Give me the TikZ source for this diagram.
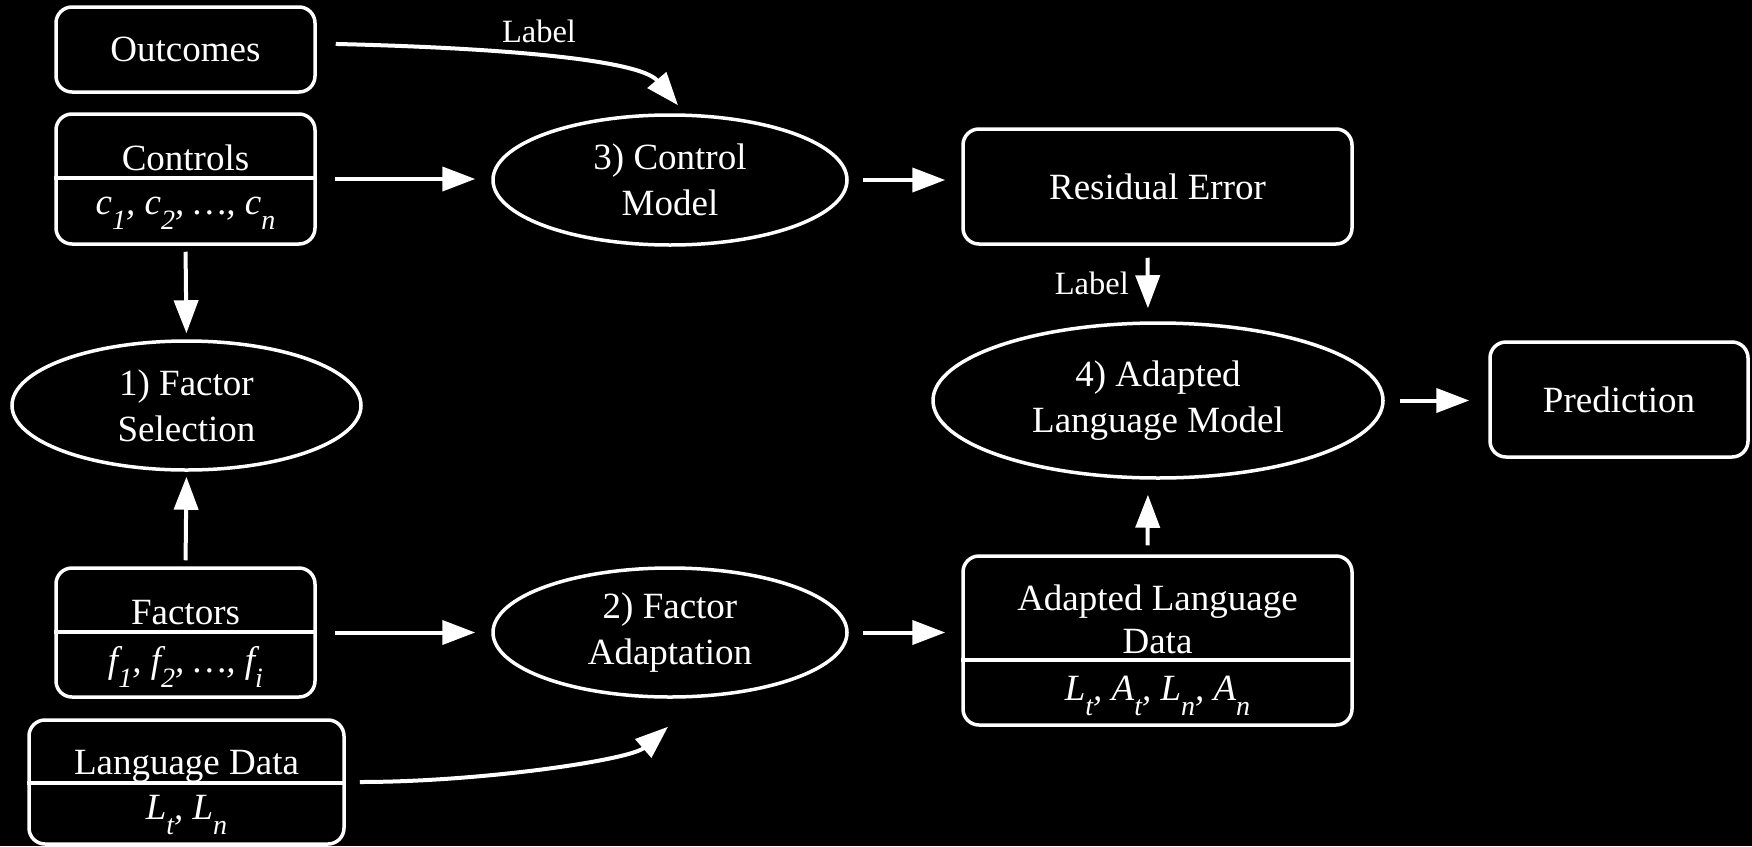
\documentclass[tikz,border=0pt]{standalone}
\usepackage{fontspec}
\setmainfont{Liberation Serif}
\usetikzlibrary{arrows.meta,shapes.geometric}

% lowered, slightly smaller index used in the variable lists
\newcommand{\lowsub}[1]{\raisebox{-0.42em}{\fontsize{28}{28}\selectfont #1}}

\begin{document}
\begin{tikzpicture}[x=1pt,y=-1pt,
  every node/.style={text=white, font=\fontsize{37}{46}\selectfont},
  box/.style={draw=white, line width=3.5pt, rounded corners=16pt, inner sep=0pt, fill=black, align=center},
  oval/.style={ellipse, draw=white, line width=3.5pt, inner sep=0pt, fill=black, align=center},
  txt/.style={inner sep=0pt, align=center},
  lbltext/.style={inner sep=0pt, font=\fontsize{32.5}{38}\selectfont},
  divider/.style={draw=white, line width=3.5pt},
  arr/.style={draw=white, line width=4pt, -{Triangle[length=33pt,width=24pt]}},
]
% canvas
\path[fill=black] (0,0) rectangle (1752,846);
\useasboundingbox (0,0) rectangle (1752,846);

% ---- left column ----
\node[box, minimum width=259pt, minimum height=85pt] (outc) at (185.5,49.5) {Outcomes};

\node[box, minimum width=259pt, minimum height=130pt] (ctrl) at (185.5,179) {};
\draw[divider] (ctrl.west |- 0,178) -- (ctrl.east |- 0,178);
\node[txt, anchor=base] (ctrl-t) at (185.5,170) {Controls};
\node[txt, anchor=base] (ctrl-v) at (185.5,214) {\itshape c\lowsub{1}, c\lowsub{2}, \ldots, c\lowsub{n}};

\node[oval, minimum width=349pt, minimum height=129pt] (fsel) at (186.5,405.5) {1) Factor\\Selection};

\node[box, minimum width=259pt, minimum height=129pt] (fact) at (185.5,632.5) {};
\draw[divider] (fact.west |- 0,632) -- (fact.east |- 0,632);
\node[txt, anchor=base] (fact-t) at (185.5,624) {Factors};
\node[txt, anchor=base] (fact-v) at (185.5,672) {\itshape f\lowsub{1}, f\lowsub{2}, \ldots, f\lowsub{i}};

\node[box, minimum width=315pt, minimum height=124pt] (lang) at (186.5,782) {};
\draw[divider] (lang.west |- 0,783) -- (lang.east |- 0,783);
\node[txt, anchor=base] (lang-t) at (186.5,774) {Language Data};
\node[txt, anchor=base] (lang-v) at (186.5,819) {\itshape L\lowsub{t}, L\lowsub{n}};

% ---- middle column ----
\node[oval, minimum width=354pt, minimum height=130pt] (ctlm) at (670,180) {3) Control\\Model};
\node[oval, minimum width=354pt, minimum height=129pt] (fada) at (670,632.5) {2) Factor\\Adaptation};

% ---- right part ----
\node[box, minimum width=389pt, minimum height=115pt] (resid) at (1157.5,186.5) {Residual Error};
\node[oval, minimum width=450pt, minimum height=155pt] (alm) at (1158,400.5) {4) Adapted\\Language Model};
\node[box, minimum width=258pt, minimum height=115pt] (pred) at (1619,399.5) {Prediction};

\node[box, minimum width=389pt, minimum height=169pt] (ald) at (1157.5,640.5) {};
\draw[divider] (ald.west |- 0,660) -- (ald.east |- 0,660);
\node[txt, anchor=base] (ald-t1) at (1157.5,610) {Adapted Language};
\node[txt, anchor=base] (ald-t2) at (1157.5,653) {Data};
\node[txt, anchor=base] (ald-v) at (1157.5,700) {\itshape L\lowsub{t}, A\lowsub{t}, L\lowsub{n}, A\lowsub{n}};

% ---- connectors ----
\draw[arr, shorten <=19pt]
  ([yshift=6pt]outc.east) .. controls (505,48) and (640,60) .. ([xshift=8pt,yshift=8pt]ctlm.north);
\node[lbltext] (lbl-top) at (539,31) {Label};

\draw[arr, shorten <=18pt, shorten >=16pt] (ctrl.east) -- (ctrl.east -| ctlm.west);
\draw[arr, shorten <=6pt, shorten >=6pt] (ctrl.south) -- (fsel.north);
\draw[arr, shorten <=6pt, shorten >=5pt] (fact.north) -- (fsel.south);
\draw[arr, shorten <=18pt, shorten >=16pt] (fact.east) -- (fact.east -| fada.west);

\draw[arr, shorten <=14pt]
  (lang.east) .. controls (480,782) and (630,760) .. ([xshift=-2pt,yshift=-28pt]fada.south);

\draw[arr, shorten <=14pt, shorten >=16pt] (ctlm.east) -- (ctlm.east -| resid.west);
\draw[arr, shorten <=14pt, shorten >=16pt] (fada.east) -- (fada.east -| ald.west);

\draw[arr, shorten <=12pt, shorten >=13pt] ([xshift=-10pt]resid.south) -- ([xshift=-10pt]alm.north);
\node[lbltext, anchor=east] (lbl-right) at (1129,283) {Label};

\draw[arr, shorten <=9pt, shorten >=15pt] ([xshift=-10pt]ald.north) -- ([xshift=-10pt]alm.south);
\draw[arr, shorten <=15pt, shorten >=19pt] (alm.east) -- (alm.east -| pred.west);
\end{tikzpicture}
\end{document}
